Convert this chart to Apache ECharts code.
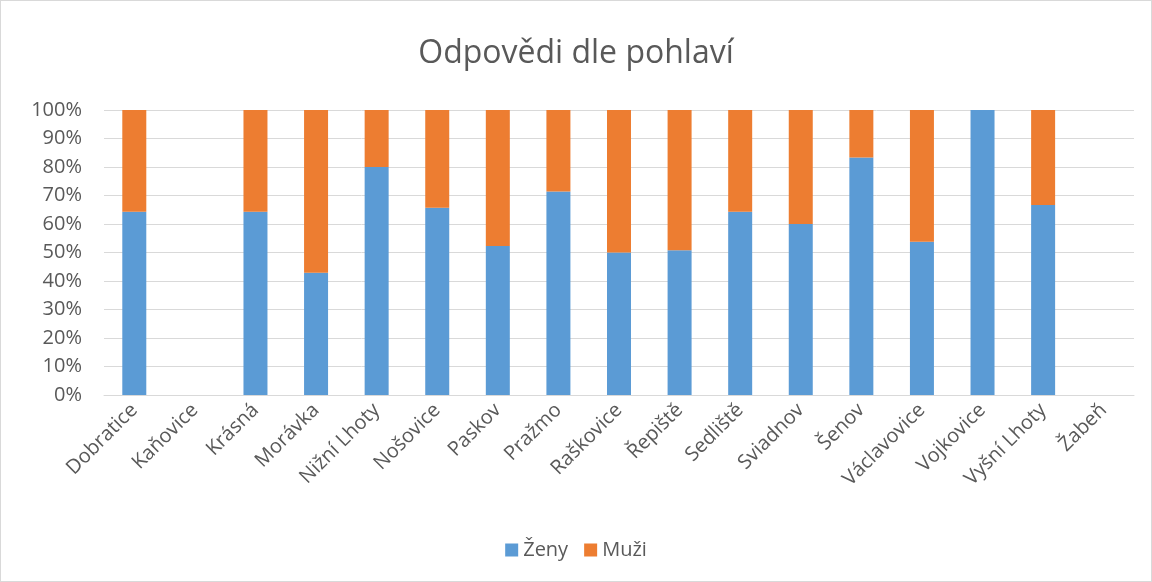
<!DOCTYPE html>
<html>
<head>
<meta charset="utf-8">
<script src="https://cdn.jsdelivr.net/npm/echarts@6/dist/echarts.min.js"></script>
<style>
    html, body { margin: 0; padding: 0; background: #fff; }
    #chart {
        width: 1150px;
        height: 580px;
        border: 1px solid #d9d9d9;
    }
</style>
</head>
<body>
<div id="chart"></div>
<script>
// obce (kategorie)
var obce = ['Dobratice', 'Kaňovice', 'Krásná', 'Morávka', 'Nižní Lhoty', 'Nošovice', 'Paskov',
    'Pražmo', 'Raškovice', 'Řepiště', 'Sedliště', 'Sviadnov', 'Šenov', 'Václavovice',
    'Vojkovice', 'Vyšní Lhoty', 'Žabeň'];
// podíly v procentech
var zeny = [64.3, null, 64.3, 42.9, 80, 65.7, 52.3, 71.4, 50, 50.8, 64.3, 60, 83.3, 53.8, 100, 66.7, null];
var muzi = [35.7, null, 35.7, 57.1, 20, 34.3, 47.7, 28.6, 50, 49.2, 35.7, 40, 16.7, 46.2, 0, 33.3, null];

var textColor = '#595959';
var font = 'Open Sans';

var myChart = echarts.init(document.getElementById('chart'));
var option = {
    animation: false,
    title: {
        text: 'Odpovědi dle pohlaví',
        left: 'center',
        top: 32,
        textStyle: {
            fontFamily: font,
            fontSize: 32,
            fontWeight: 'normal',
            color: textColor
        }
    },
    grid: {
        top: 109,
        left: 103,
        right: 17,
        bottom: 186
    },
    legend: {
        bottom: 16,
        left: 'center',
        itemWidth: 13,
        itemHeight: 13,
        itemGap: 16,
        icon: 'rect',
        textStyle: {
            fontFamily: font,
            fontSize: 20,
            color: textColor
        },
        data: ['Ženy', 'Muži']
    },
    xAxis: {
        type: 'category',
        data: obce,
        axisTick: { show: false },
        axisLine: { lineStyle: { color: '#d9d9d9', width: 1 } },
        axisLabel: {
            interval: 0,
            rotate: 45,
            margin: 12,
            fontFamily: font,
            fontSize: 20,
            color: textColor
        }
    },
    yAxis: {
        type: 'value',
        min: 0,
        max: 100,
        interval: 10,
        axisLine: { show: false },
        axisTick: { show: false },
        splitLine: { lineStyle: { color: '#d9d9d9', width: 1 } },
        axisLabel: {
            formatter: '{value}%',
            margin: 22,
            fontFamily: font,
            fontSize: 20,
            color: textColor
        }
    },
    series: [
        {
            name: 'Ženy',
            type: 'bar',
            stack: 'celkem',
            barWidth: 24,
            data: zeny,
            itemStyle: { color: '#5b9bd5' }
        },
        {
            name: 'Muži',
            type: 'bar',
            stack: 'celkem',
            barWidth: 24,
            data: muzi,
            itemStyle: { color: '#ed7d31' }
        }
    ]
};
myChart.setOption(option);
</script>
</body>
</html>
